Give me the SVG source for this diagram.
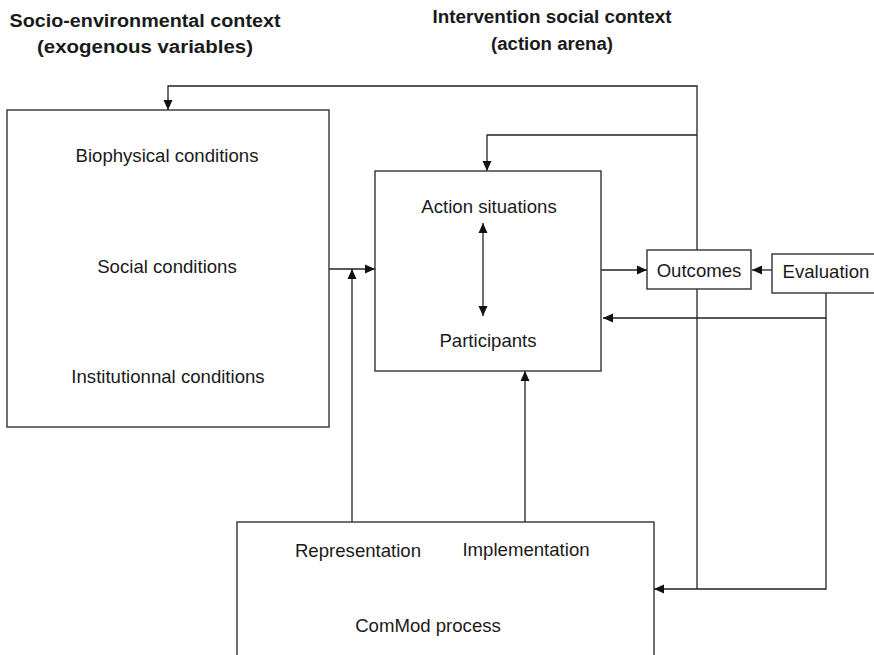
<svg xmlns="http://www.w3.org/2000/svg" width="874" height="655" viewBox="0 0 874 655">
  <defs>
    <marker id="arrow" viewBox="0 0 10 10" refX="10" refY="5" markerWidth="10" markerHeight="10" markerUnits="userSpaceOnUse" orient="auto-start-reverse">
      <path d="M0,0.5 L10,5 L0,9.5 Z" fill="#111"/>
    </marker>
  </defs>
  <style>
    .box { fill: #fff; stroke: #333; stroke-width: 1.4; }
    .wire { fill: none; stroke: #222; stroke-width: 1.3; }
    .lbl { font-family: "Liberation Sans", Arial, sans-serif; font-size: 18.6px; fill: #1a1a1a; text-anchor: middle; }
    .head { font-family: "Liberation Sans", Arial, sans-serif; font-size: 18px; font-weight: bold; fill: #1a1a1a; text-anchor: middle; }
  </style>
  <rect width="874" height="655" fill="#fff"/>

  <!-- column headings -->
  <g id="heading-left">
    <text class="head" x="145" y="27" textLength="271" lengthAdjust="spacingAndGlyphs">Socio-environmental context</text>
    <text class="head" x="145" y="53" textLength="216" lengthAdjust="spacingAndGlyphs">(exogenous variables)</text>
  </g>
  <g id="heading-right">
    <text class="head" x="552" y="23" textLength="239" lengthAdjust="spacingAndGlyphs">Intervention social context</text>
    <text class="head" x="552" y="50" textLength="122" lengthAdjust="spacingAndGlyphs">(action arena)</text>
  </g>

  <!-- connectors -->
  <g id="connectors">
    <!-- outcomes feedback to the exogenous context -->
    <polyline class="wire" points="697,589 697,86 168,86 168,110" marker-end="url(#arrow)"/>
    <!-- outcomes feedback to the action arena -->
    <polyline class="wire" points="697,135 487,135 487,171" marker-end="url(#arrow)"/>
    <!-- context to action arena -->
    <line class="wire" x1="329" y1="269" x2="375" y2="269" marker-end="url(#arrow)"/>
    <!-- representation to action arena -->
    <line class="wire" x1="352" y1="522" x2="352" y2="269" marker-end="url(#arrow)"/>
    <!-- implementation to action arena -->
    <line class="wire" x1="525" y1="522" x2="525" y2="371" marker-end="url(#arrow)"/>
    <!-- action situations <-> participants -->
    <line class="wire" x1="483" y1="223" x2="483" y2="316" marker-start="url(#arrow)" marker-end="url(#arrow)"/>
    <!-- action arena to outcomes -->
    <line class="wire" x1="601" y1="270" x2="647" y2="270" marker-end="url(#arrow)"/>
    <!-- evaluation to outcomes -->
    <line class="wire" x1="772" y1="270" x2="752" y2="270" marker-end="url(#arrow)"/>
    <!-- evaluation feedback to action arena -->
    <polyline class="wire" points="826,293 826,318 603,318" marker-end="url(#arrow)"/>
    <!-- evaluation feedback to ComMod process -->
    <polyline class="wire" points="826,318 826,589 654,589" marker-end="url(#arrow)"/>
  </g>

  <!-- exogenous variables -->
  <g id="context">
    <rect class="box" x="7" y="110" width="322" height="317"/>
    <text class="lbl" x="167" y="162">Biophysical conditions</text>
    <text class="lbl" x="167" y="273">Social conditions</text>
    <text class="lbl" x="168" y="383">Institutionnal conditions</text>
  </g>

  <!-- action arena -->
  <g id="action-arena">
    <rect class="box" x="375" y="171" width="226" height="200" style="fill:none"/>
    <text class="lbl" x="489" y="213">Action situations</text>
    <text class="lbl" x="488" y="347">Participants</text>
  </g>

  <g id="outcomes">
    <rect class="box" x="647" y="250" width="104" height="39"/>
    <text class="lbl" x="699" y="277">Outcomes</text>
  </g>

  <g id="evaluation">
    <rect class="box" x="772" y="254" width="105" height="39"/>
    <text class="lbl" x="826" y="278">Evaluation</text>
  </g>

  <g id="commod-process">
    <rect class="box" x="237" y="522" width="417" height="140"/>
    <text class="lbl" x="358" y="557">Representation</text>
    <text class="lbl" x="526" y="556">Implementation</text>
    <text class="lbl" x="428" y="632">ComMod process</text>
  </g>
</svg>
